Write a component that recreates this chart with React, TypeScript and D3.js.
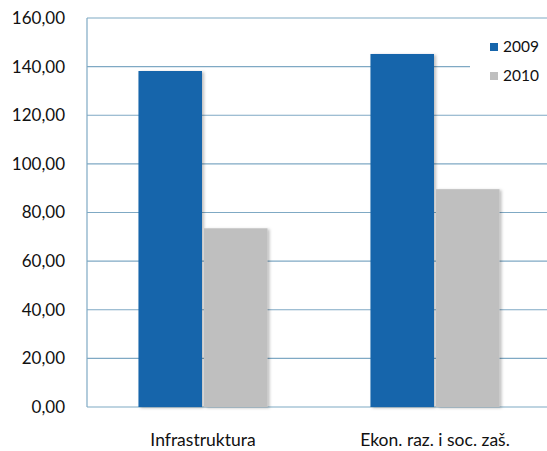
import React from "react";
import * as d3 from "d3";

const categories = ["Infrastruktura", "Ekon. raz. i soc. zaš."];
const seriesNames = ["2009", "2010"];
const values2009 = [138.2, 145.2];
const values2010 = [73.5, 89.6];
const yTicks = [0, 20, 40, 60, 80, 100, 120, 140, 160];
const colors = ["#1665ab", "#bfbfbf"];

const W = 547, H = 451;
const margin = { left: 87, right: -4, top: 18, bottom: 44 };

export default function App() {
  const x = d3.scaleBand<string>().domain(categories).range([margin.left, W - margin.right]).paddingInner(0.435).paddingOuter(0.2175);
  const xs = d3.scaleBand<string>().domain(seriesNames).range([0, x.bandwidth()]).padding(0.0);
  const y = d3.scaleLinear().domain([0, 160]).range([H - margin.bottom, margin.top]);
  const fmt = (v: number) => v.toFixed(2).replace(".", ",");
  const series = [values2009, values2010];
  const grid = "#7fa9c4";
  const font = "Lato, 'Open Sans', sans-serif";
  return (
    <svg width={W} height={H} style={{ position: "absolute", left: 0, top: 0, background: "#fff" }}>
      <defs>
        <filter id="sh" x="-10%" y="-10%" width="130%" height="130%">
          <feDropShadow dx="2" dy="1" stdDeviation="1.5" floodColor="#000" floodOpacity="0.25" />
        </filter>
      </defs>
      {yTicks.map((t) => (
        <g key={t}>
          <line x1={margin.left} x2={W} y1={y(t)} y2={y(t)} stroke={grid} strokeWidth={1.2} />
          <text x={65} y={y(t)} dy="0.35em" textAnchor="end" fontFamily={font} fontSize={17} fill="#111">{fmt(t)}</text>
        </g>
      ))}
      <line x1={margin.left} x2={margin.left} y1={y(160)} y2={y(0)} stroke={grid} strokeWidth={1.2} />
      {categories.map((c, ci) => (
        <g key={c}>
          {seriesNames.map((s, si) => {
            const v = series[si][ci];
            const bx = (x(c) ?? 0) + (xs(s) ?? 0);
            return <rect key={s} x={bx + 1} y={y(v)} width={xs.bandwidth() - 2} height={y(0) - y(v)} fill={colors[si]} filter="url(#sh)" />;
          })}
          <text x={(x(c) ?? 0) + x.bandwidth() / 2} y={446} textAnchor="middle" fontFamily={font} fontSize={17.5} fill="#111">{c}</text>
        </g>
      ))}
      <rect x={470} y={34} width={77} height={56} fill="#fff" />
      {seriesNames.map((s, i) => (
        <g key={s} transform={`translate(490, ${47 + i * 29})`}>
          <rect x={0} y={-4} width={8} height={8} fill={colors[i]} />
          <text x={13} y={0} dy="0.35em" fontFamily={font} fontSize={15.5} fill="#111">{s}</text>
        </g>
      ))}
    </svg>
  );
}
